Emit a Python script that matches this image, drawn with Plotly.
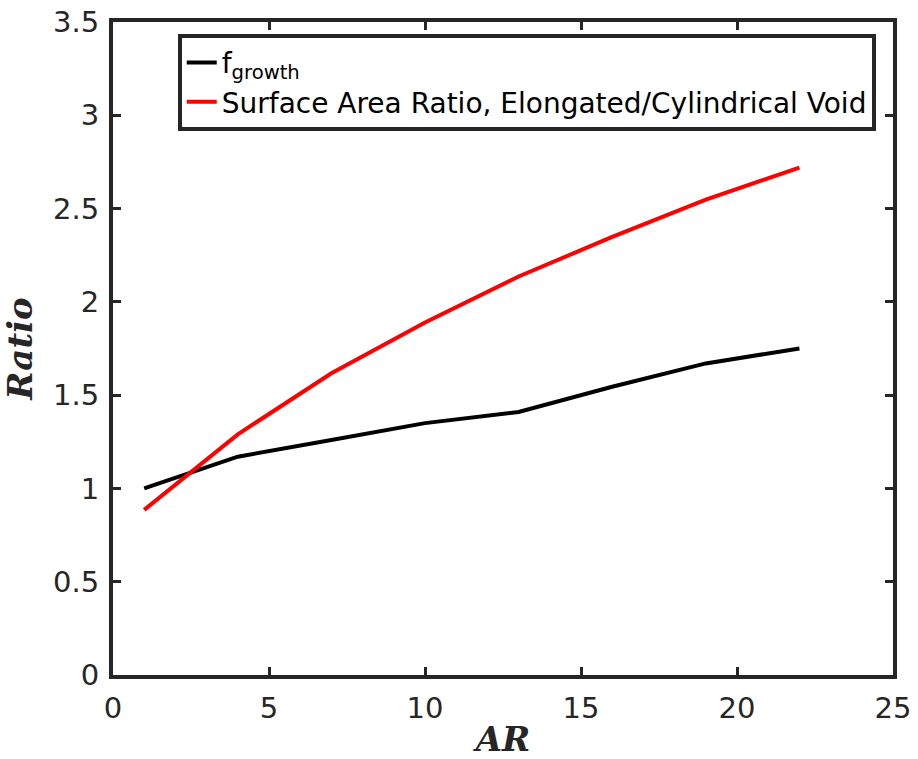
import plotly.graph_objects as go

# Aspect ratio values and the two ratio curves
aspect_ratio = [1, 4, 7, 10, 13, 16, 19, 22]
f_growth = [1.00, 1.17, 1.26, 1.35, 1.41, 1.545, 1.67, 1.75]
surface_area_ratio = [0.885, 1.29, 1.617, 1.889, 2.136, 2.348, 2.548, 2.72]

x_ticks = [0, 5, 10, 15, 20, 25]
y_ticks = [0, 0.5, 1, 1.5, 2, 2.5, 3, 3.5]
y_tick_text = ["0", "0.5", "1", "1.5", "2", "2.5", "3", "3.5"]

axis_color = "#262626"

fig = go.Figure()
fig.add_trace(go.Scatter(
    x=aspect_ratio, y=f_growth, mode="lines",
    name="f<sub>growth</sub>",
    line=dict(color="black", width=4),
))
fig.add_trace(go.Scatter(
    x=aspect_ratio, y=surface_area_ratio, mode="lines",
    name="Surface Area Ratio, Elongated/Cylindrical Void",
    line=dict(color="#ff0000", width=4),
))

axis_common = dict(
    showline=True, linewidth=4, linecolor=axis_color, mirror="ticks",
    ticks="inside", ticklen=8, tickwidth=3, tickcolor=axis_color,
    showgrid=False, zeroline=False, automargin=False,
    tickfont=dict(family="DejaVu Sans", size=29, color=axis_color),
)

fig.update_layout(
    width=918, height=759,
    margin=dict(l=113, r=25, t=22, b=84, autoexpand=False),
    paper_bgcolor="white", plot_bgcolor="white",
    xaxis=dict(
        range=[0, 25], tickvals=x_ticks, ticklabelstandoff=4,
        title=dict(text="<i><b>AR</b></i>", standoff=6,
                   font=dict(family="DejaVu Serif", size=34, color=axis_color)),
        **axis_common,
    ),
    yaxis=dict(
        range=[0, 3.5], tickvals=y_ticks, ticktext=y_tick_text,
        ticklabelstandoff=4,
        title=dict(text="<i><b>Ratio</b></i>", standoff=12,
                   font=dict(family="DejaVu Serif", size=34, color=axis_color)),
        **axis_common,
    ),
    legend=dict(
        x=0.083, y=0.982, xanchor="left", yanchor="top",
        bgcolor="white", bordercolor=axis_color, borderwidth=4,
        font=dict(family="DejaVu Sans", size=28, color="black"),
        itemwidth=30, tracegroupgap=0,
    ),
    showlegend=True,
)

fig.write_html("out.html")
